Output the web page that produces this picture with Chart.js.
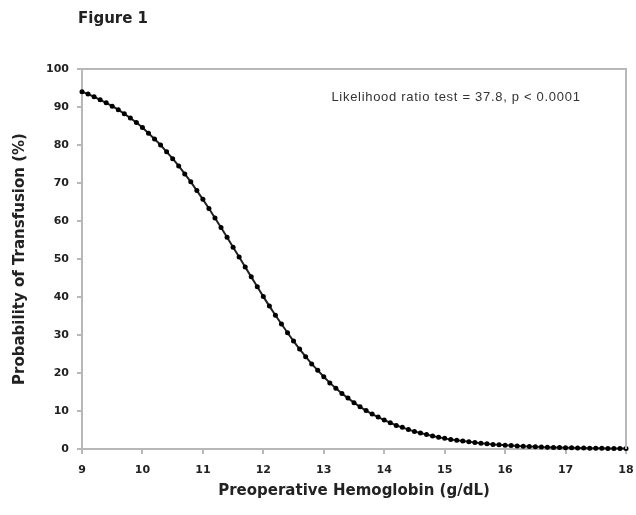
<!DOCTYPE html>
<html>
<head>
<meta charset="utf-8">
<script src="https://cdn.jsdelivr.net/npm/chart.js@4.4.1/dist/chart.umd.min.js"></script>
<style>
html,body{margin:0;padding:0;background:#fff;}
#wrap{position:relative;width:636px;height:515px;}
</style>
</head>
<body>
<div id="wrap"><canvas id="c" width="636" height="515"></canvas></div>
<script>
const figureTitle = "Figure 1";
const annotationText = "Likelihood ratio test = 37.8, p < 0.0001";
const xTitle = "Preoperative Hemoglobin (g/dL)";
const yTitle = "Probability of Transfusion (%)";

const hemoglobin = [
  9.0,9.1,9.2,9.3,9.4,9.5,9.6,9.7,9.8,9.9,
  10.0,10.1,10.2,10.3,10.4,10.5,10.6,10.7,10.8,10.9,
  11.0,11.1,11.2,11.3,11.4,11.5,11.6,11.7,11.8,11.9,
  12.0,12.1,12.2,12.3,12.4,12.5,12.6,12.7,12.8,12.9,
  13.0,13.1,13.2,13.3,13.4,13.5,13.6,13.7,13.8,13.9,
  14.0,14.1,14.2,14.3,14.4,14.5,14.6,14.7,14.8,14.9,
  15.0,15.1,15.2,15.3,15.4,15.5,15.6,15.7,15.8,15.9,
  16.0,16.1,16.2,16.3,16.4,16.5,16.6,16.7,16.8,16.9,
  17.0,17.1,17.2,17.3,17.4,17.5,17.6,17.7,17.8,17.9,
  18.0
];
const probability = [
  94.0,93.4,92.7,91.9,91.1,90.2,89.3,88.2,87.1,85.9,
  84.6,83.1,81.6,80.0,78.2,76.4,74.5,72.4,70.3,68.0,
  65.7,63.3,60.8,58.3,55.7,53.1,50.5,47.9,45.3,42.7,
  40.1,37.6,35.2,32.9,30.6,28.4,26.3,24.3,22.4,20.7,
  19.0,17.4,16.0,14.6,13.4,12.2,11.1,10.1,9.2,8.4,
  7.6,6.9,6.2,5.7,5.1,4.6,4.2,3.8,3.4,3.1,
  2.8,2.5,2.3,2.1,1.9,1.7,1.5,1.4,1.2,1.1,
  1.0,0.9,0.8,0.7,0.66,0.6,0.5,0.48,0.42,0.38,
  0.35,0.3,0.28,0.25,0.22,0.2,0.18,0.16,0.14,0.13,
  0.11
];
const xTicks = [9,10,11,12,13,14,15,16,17,18];
const yTicks = [0,10,20,30,40,50,60,70,80,90,100];

const points = hemoglobin.map((x,i)=>({x:x, y:probability[i]}));

const frameAndText = {
  id:'frameAndText',
  afterDraw(chart){
    const {ctx, chartArea:a} = chart;
    ctx.save();
    ctx.strokeStyle = '#b8b8b8';
    ctx.lineWidth = 2;
    ctx.beginPath();
    ctx.moveTo(a.left, a.top);
    ctx.lineTo(a.right, a.top);
    ctx.lineTo(a.right, a.bottom);
    ctx.stroke();
    ctx.fillStyle = '#222';
    ctx.font = 'bold 15px "DejaVu Sans"';
    ctx.textBaseline = 'middle';
    ctx.textAlign = 'left';
    ctx.fillText(figureTitle, 78, 19);
    ctx.font = '13px "Liberation Sans"';
    ctx.letterSpacing = '0.7px';
    ctx.fillStyle = '#333';
    ctx.textAlign = 'center';
    ctx.fillText(annotationText, 456, 97);
    ctx.restore();
  }
};

new Chart(document.getElementById('c'), {
  type:'line',
  data:{datasets:[{
    data: points,
    borderColor:'#222',
    backgroundColor:'#000',
    borderWidth:2,
    pointRadius:2.5,
    pointHoverRadius:2.5,
    pointBackgroundColor:'#000',
    pointBorderWidth:0,
    tension:0,
    clip:false
  }]},
  options:{
    responsive:false,
    animation:false,
    devicePixelRatio:1,
    layout:{padding:{top:69,right:10,bottom:8,left:0}},
    plugins:{legend:{display:false},tooltip:{enabled:false},title:{display:false}},
    scales:{
      x:{
        type:'linear', min:9, max:18,
        afterBuildTicks(s){ s.ticks = xTicks.map(v=>({value:v})); },
        afterFit(s){ s.height = 58; s.paddingRight = 0; s.paddingLeft = 0; },
        grid:{drawOnChartArea:false, drawTicks:true, tickLength:5, color:'#b8b8b8', lineWidth:2},
        border:{display:true, color:'#b8b8b8', width:2},
        ticks:{padding:10, color:'#222', font:{family:'"DejaVu Sans"', size:11, weight:'bold'}, maxRotation:0},
        title:{display:true, text:xTitle, color:'#222', padding:{top:4,bottom:7}, font:{family:'"DejaVu Sans"', size:15, weight:'bold'}}
      },
      y:{
        type:'linear', min:0, max:100,
        afterBuildTicks(s){ s.ticks = yTicks.map(v=>({value:v})); },
        afterFit(s){ s.width = 82; s.paddingTop = 0; s.paddingBottom = 0; },
        grid:{drawOnChartArea:false, drawTicks:true, tickLength:5, color:'#b8b8b8', lineWidth:2},
        border:{display:true, color:'#b8b8b8', width:2},
        ticks:{padding:8, color:'#222', font:{family:'"DejaVu Sans"', size:11, weight:'bold'}},
        title:{display:true, text:yTitle, color:'#222', padding:{top:11,bottom:4}, font:{family:'"DejaVu Sans"', size:15, weight:'bold'}}
      }
    }
  },
  plugins:[frameAndText]
});
</script>
</body>
</html>
